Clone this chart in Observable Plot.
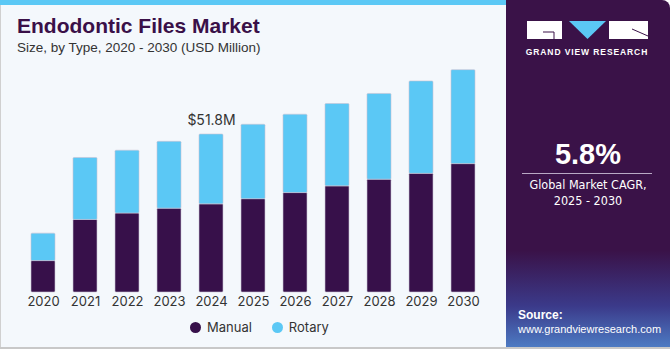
<!DOCTYPE html>
<html>
<head>
<meta charset="utf-8">
<script src="https://cdn.jsdelivr.net/npm/d3@7"></script>
<script src="https://cdn.jsdelivr.net/npm/@observablehq/plot@0.6"></script>
<style>
  html, body { margin: 0; padding: 0; background: #ffffff; }
  body { width: 670px; height: 350px; overflow: hidden; font-family: "Liberation Sans", Arial, sans-serif; }
  #wrap { position: relative; width: 670px; height: 350px; }
  #panel { position: absolute; left: 0; top: 0; width: 506px; height: 348px; background: #f4f8fc; border-left: 1px solid #d0d0d0; box-sizing: border-box; }
  #topband { position: absolute; left: 0; top: 0; width: 506px; height: 5px; background: #5bc8f5; }
  #bottomline { position: absolute; left: 0; top: 347px; width: 670px; height: 2px; background: #c8c8c8; }
  #title { position: absolute; left: 17px; top: 14px; font-size: 21px; font-weight: bold; color: #3a1048; }
  #subtitle { position: absolute; left: 17px; top: 40px; font-size: 13.5px; color: #333; }
  #chart { position: absolute; left: 0; top: 0; }
  #side { position: absolute; left: 506px; top: 0; width: 164px; height: 348px; border-top-right-radius: 8px;
          background: linear-gradient(to bottom, #3a1248 0%, #3a1248 72%, #3b3a8a 88%, #4d7cc4 100%); }
  #cagr { position: absolute; left: 0; width: 164px; top: 138px; text-align: center; color: #fff; font-size: 29px; font-weight: bold; }
  #rule { position: absolute; left: 16px; width: 130px; top: 173px; height: 1px; background: #b9a9c5; }
  #cagrtxt { position: absolute; left: 0; width: 164px; top: 177px; text-align: center; color: #fff; font-size: 12.5px; line-height: 16px;
             font-family: "Liberation Sans Narrow", "DejaVu Sans Condensed", "Liberation Sans", sans-serif; }
  #src { position: absolute; left: 12px; top: 308px; color: #fff; font-size: 11px; line-height: 14px; font-family: "Liberation Sans", Arial, sans-serif; }
  #src b { font-size: 12px; }
  #legend { position: absolute; top: 319px; left: 190px; font-size: 13px; color: #333; font-family: Inter, "Liberation Sans", sans-serif; }
  #legend span.sw { display: inline-block; width: 11px; height: 11px; border-radius: 50%; vertical-align: -1px; margin-right: 6px; }
  #legend span.it { margin-right: 20px; }
</style>
</head>
<body>
<div id="wrap">
  <div id="panel"></div>
  <div id="topband"></div>
  <div id="chart"></div>
  <div id="title">Endodontic Files Market</div>
  <div id="subtitle">Size, by Type, 2020 - 2030 (USD Million)</div>
  <div id="legend"></div>
  <div id="side">
    <svg width="164" height="60" style="position:absolute;left:0;top:0">
      <rect x="21" y="21" width="35" height="18" fill="#fff"/>
      <path d="M37 32 H48 V39" stroke="#3a1248" stroke-width="1" fill="none"/>
      <polygon points="63,21 100,21 81.5,39" fill="#5bc8f5"/>
      <rect x="103" y="21" width="39" height="18" fill="#fff"/>
      <path d="M126 29 L142 36" stroke="#3a1248" stroke-width="1"/>
      <text x="81" y="55" text-anchor="middle" fill="#fff" font-size="8.5" font-weight="bold" letter-spacing="0.9" font-family="Liberation Sans, Arial, sans-serif">GRAND VIEW RESEARCH</text>
    </svg>
    <div id="cagr">5.8%</div>
    <div id="rule"></div>
    <div id="cagrtxt">Global Market CAGR,<br>2025 - 2030</div>
    <div id="src"><b>Source:</b><br>www.grandviewresearch.com</div>
  </div>
  <div id="bottomline"></div>
</div>
<script>
const years = ["2020","2021","2022","2023","2024","2025","2026","2027","2028","2029","2030"];
const manual = [10.3, 23.8, 25.9, 27.5, 28.9, 30.6, 32.6, 34.8, 37.0, 38.9, 42.1];
const rotary = [9.0, 20.3, 20.6, 21.9, 22.9, 24.4, 25.7, 27.0, 28.1, 30.3, 30.8];
const seriesNames = ["Manual", "Rotary"];
const seriesColors = ["#37104a", "#5bc8f5"];
const labelYear = "2024";
const labelText = "$51.8M";

const rows = [];
years.forEach((y, i) => {
  rows.push({year: y, type: "Manual", value: manual[i]});
  rows.push({year: y, type: "Rotary", value: rotary[i]});
});
const totals = years.map((y, i) => ({year: y, total: manual[i] + rotary[i]}));

const chart = Plot.plot({
  width: 506,
  height: 320,
  marginLeft: 22,
  marginRight: 22,
  marginTop: 48,
  marginBottom: 28,
  style: {background: "transparent", fontFamily: "Inter, 'Liberation Sans', sans-serif", fontSize: "13px", color: "#333"},
  x: {domain: years, paddingInner: 0.42, paddingOuter: 0.21, tickSize: 0, tickPadding: 4, label: null},
  y: {domain: [0, 80], axis: null},
  color: {domain: seriesNames, range: seriesColors},
  marks: [
    Plot.barY(rows, {x: "year", y: "value", fill: "type", stroke: "#c9c3d3", strokeWidth: 0.6, rx: 1}),
    Plot.text(totals.filter(d => d.year === labelYear), {x: "year", y: "total", text: () => labelText, dy: -14, fontSize: 14, fill: "#333"})
  ]
});
document.getElementById("chart").appendChild(chart);

const legend = document.getElementById("legend");
legend.innerHTML = seriesNames.map((n, i) =>
  `<span class="it"><span class="sw" style="background:${seriesColors[i]}"></span>${n}</span>`).join("");
</script>
</body>
</html>
